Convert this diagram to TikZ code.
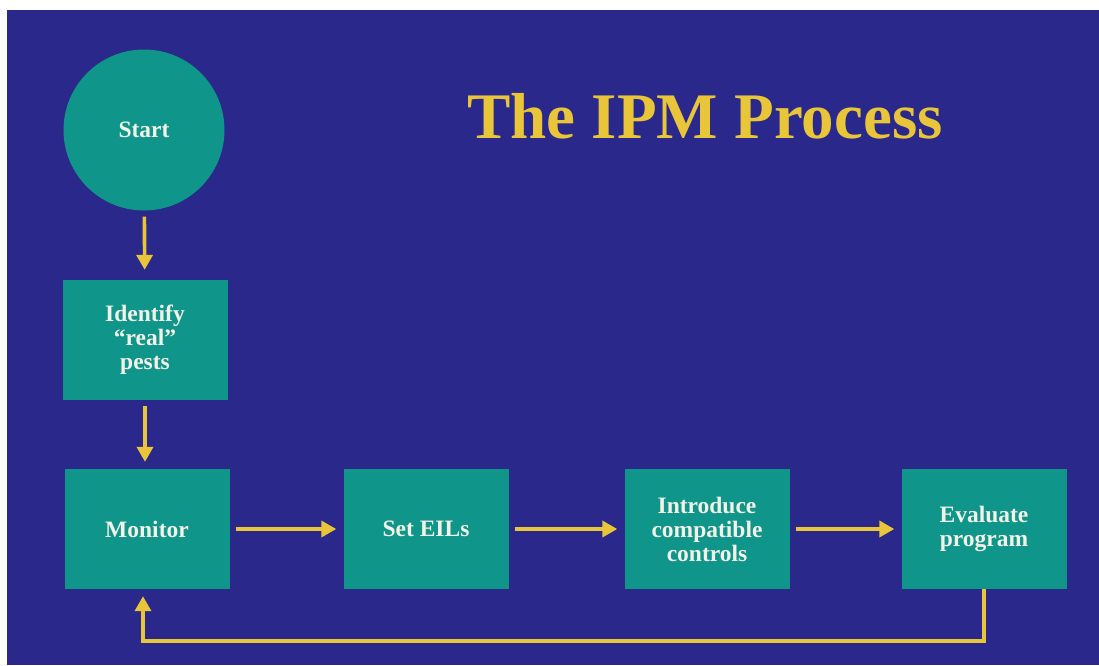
\documentclass[tikz,border=0pt]{standalone}
\usepackage{fontspec}
\setmainfont{Liberation Serif}
\usetikzlibrary{arrows.meta}
\definecolor{ipmnavy}{RGB}{42,40,138}
\definecolor{ipmteal}{RGB}{15,149,137}
\definecolor{ipmgold}{RGB}{233,197,58}
\definecolor{ipmtext}{RGB}{242,242,232}

\tikzset{
    stepbox/.style={fill=ipmteal, text=ipmtext, font=\fontsize{23.5}{24}\selectfont\bfseries,
        align=center, minimum width=165pt, minimum height=120pt, inner sep=0pt},
    flow/.style={draw=ipmgold, line width=3.6pt, -{Triangle[width=16pt,length=15pt]},
        shorten >=7pt, shorten <=6pt}
}

\begin{document}
\begin{tikzpicture}[x=1pt,y=-1pt]
    % Page and background
    \fill[white] (0,0) rectangle (1099,665);
    \fill[ipmnavy] (7,10) rectangle (1099,665);
    \useasboundingbox (0,0) rectangle (1099,665);

    % Title
    \node[anchor=base, text=ipmgold, font=\fontsize{65}{65}\selectfont\bfseries] (title) at (705,138) {The IPM Process};

    % Start and the left column
    \node[circle, fill=ipmteal, text=ipmtext, font=\fontsize{23.5}{24}\selectfont\bfseries,
        minimum size=161pt, inner sep=0pt] (start) at (144,130) {Start};
    \node[stepbox] (identify) at (145,340) {Identify\\``real''\\pests};

    % Bottom row
    \node[stepbox] (monitor) at (147,529) {Monitor};
    \node[stepbox] (seteils) at (426,529) {Set EILs};
    \node[stepbox] (introduce) at (707,529) {Introduce\\compatible\\controls};
    \node[stepbox] (evaluate) at (984,529) {Evaluate\\program};

    % Arrows
    \draw[flow, shorten >=10pt] (start) -- (identify);
    \draw[flow] (identify.south) -- (identify.south |- monitor.north);
    \draw[flow] (monitor) -- (seteils);
    \draw[flow] (seteils) -- (introduce);
    \draw[flow] (introduce) -- (evaluate);

    % Loop back to monitoring
    \draw[flow, shorten <=0pt] (evaluate.south) -- ++(0,52) -| ([xshift=-4pt]monitor.south);
\end{tikzpicture}
\end{document}
